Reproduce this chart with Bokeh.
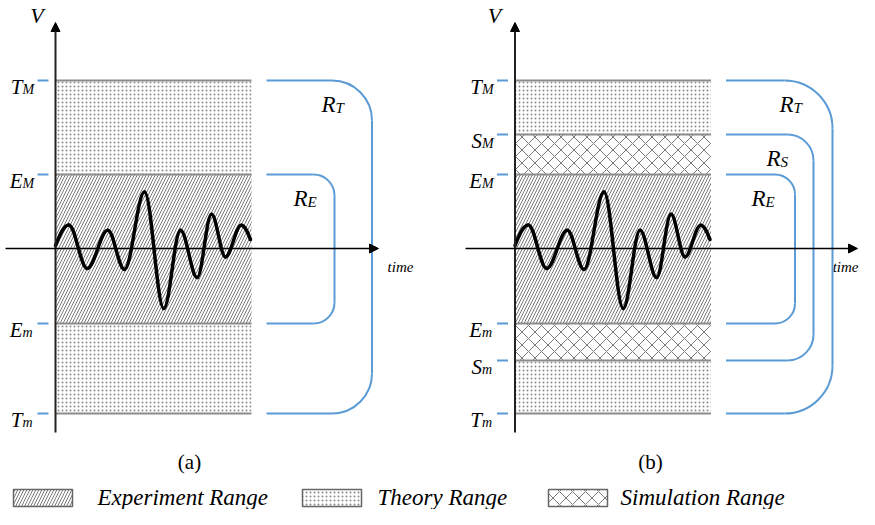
import math
from bokeh.plotting import figure
from bokeh.models import Range1d, Arrow, NormalHead
from bokeh.layouts import column, row
from bokeh.embed import file_html
from bokeh.resources import INLINE
from bokeh.core.properties import value

# ---------------- data ----------------
# signal: extrema of the measured waveform (time, voltage)
wave_time = [0, 13.3, 31.7, 52.3, 69, 89, 108.3, 125, 141.7, 156, 170, 185.7, 195]
wave_volt = [3, 23.6, -20, 18.3, -21, 56.6, -60, 18.3, -29, 34.3, -8.4, 23.3, 9]
window_time = [0, 196]

# range bounds (voltage)
theory_range = [-165, 168]
simulation_range = [-112, 114]
experiment_range = [-75, 74]

# level tick labels
levels_a_main = ["T", "E", "E", "T"]
levels_a_sub = ["M", "M", "m", "m"]
levels_a_value = [168, 74, -75, -165]

levels_b_main = ["T", "S", "E", "E", "S", "T"]
levels_b_sub = ["M", "M", "M", "m", "m", "m"]
levels_b_value = [168, 114, 74, -75, -112, -165]

# range brackets
brackets_a_sub = ["T", "E"]
brackets_b_sub = ["T", "S", "E"]

legend_labels = ["Experiment Range", "Theory Range", "Simulation Range"]
panel_captions = ["(a)", "(b)"]

# ---------------- style ----------------
BLUE = "#5b9bd5"
GRAY = "#8c8c8c"
HATCH = "#7a7a7a"
SERIF = value("'Liberation Serif', 'Times New Roman', serif")
PANEL_H = 478
RANGES = {"T": theory_range, "S": simulation_range, "E": experiment_range}

# layout of brackets per panel: vertical position, corner radius, label offset
BR_LAYOUT_A = {"T": (316.5, 40, 36.5), "E": (279, 21, 27)}
BR_LAYOUT_B = {"T": (317.5, 48, 39), "S": (298.5, 26, 33), "E": (280, 20, 29.5)}

FILLS = {
    "T": dict(hatch_pattern="dot", hatch_scale=4, hatch_weight=1.0, hatch_color="#8a8a8a"),
    "S": dict(hatch_pattern="diagonal_cross", hatch_scale=13, hatch_weight=1.0, hatch_color=HATCH),
    "E": dict(hatch_pattern="right_diagonal_line", hatch_scale=6, hatch_weight=1.0, hatch_color=HATCH),
}


def make_panel(width, origin, bands, lv_main, lv_sub, lv_val, br_subs, br_layout,
               caption, xaxis_start, xaxis_end, v_x, cap_x):
    p = figure(width=width, height=PANEL_H, output_backend="svg", toolbar_location=None,
               x_axis_type=None, y_axis_type=None, min_border=0,
               x_range=Range1d(-origin, width - origin), y_range=Range1d(-(PANEL_H - 248), 248))
    p.outline_line_color = None
    p.background_fill_color = "white"

    # bands
    for key in bands:
        lo, hi = RANGES[key]
        p.quad(left=[window_time[0]], right=[window_time[1]], bottom=[lo], top=[hi],
               fill_color="white", line_color=None, **FILLS[key])
    # boundary lines
    p.segment(x0=[window_time[0]] * len(lv_val), x1=[window_time[1]] * len(lv_val),
              y0=lv_val, y1=lv_val, line_color=GRAY, line_width=2)

    # waveform as smooth segments between extrema
    k = 0.36
    x0, y0, x1, y1, cx0, cy0, cx1, cy1 = [], [], [], [], [], [], [], []
    n = len(wave_time)
    for i in range(n - 1):
        ax, ay, bx, by = wave_time[i], wave_volt[i], wave_time[i + 1], wave_volt[i + 1]
        dx = bx - ax
        x0.append(ax); y0.append(ay); x1.append(bx); y1.append(by)
        cx0.append(ax + k * dx)
        cy0.append(ay + (0.6 * (by - ay) if i == 0 else 0))
        cx1.append(bx - k * dx)
        cy1.append(by + (0.6 * (ay - by) if i == n - 2 else 0))
    p.bezier(x0=x0, y0=y0, x1=x1, y1=y1, cx0=cx0, cy0=cy0, cx1=cx1, cy1=cy1,
             line_color="black", line_width=3.5, line_cap="round")

    # axes
    p.add_layout(Arrow(end=NormalHead(size=9, fill_color="black", line_color="black", line_width=1),
                       x_start=0, y_start=-184, x_end=0, y_end=226,
                       line_color="#222222", line_width=2))
    p.add_layout(Arrow(end=NormalHead(size=9, fill_color="black", line_color="black", line_width=1),
                       x_start=xaxis_start, y_start=0, x_end=xaxis_end, y_end=0,
                       line_color="black", line_width=1.5))
    p.text(x=[v_x], y=[233], text=["V"], text_font=SERIF,
           text_font_style="italic", text_font_size="22px", text_align="center",
           text_baseline="middle")
    p.text(x=[min(345, width - origin - 1)], y=[-18], text=["time"], text_font=SERIF,
           text_font_style="italic", text_font_size="15px",
           text_align="center" if width - origin > 360 else "right",
           text_baseline="middle")

    # level ticks + labels
    p.segment(x0=[-18] * len(lv_val), x1=[-7] * len(lv_val), y0=lv_val, y1=lv_val,
              line_color=BLUE, line_width=2)
    p.text(x=[-33] * len(lv_val), y=[v - 6 for v in lv_val], text=lv_main, text_font=SERIF,
           text_font_style="italic", text_font_size="21px", text_align="right",
           text_baseline="alphabetic")
    p.text(x=[-33] * len(lv_val), y=[v - 9 for v in lv_val], text=lv_sub, text_font=SERIF,
           text_font_style="italic", text_font_size="14px", text_align="left",
           text_baseline="alphabetic")

    # brackets
    start = 211
    for key in br_subs:
        lo, hi = RANGES[key]
        xv, r, ldx = br_layout[key]
        p.segment(x0=[start, start, xv], y0=[hi, lo, hi - r], x1=[xv - r, xv - r, xv],
                  y1=[hi, lo, lo + r], line_color=BLUE, line_width=2)
        p.arc(x=[xv - r, xv - r], y=[hi - r, lo + r], radius=r,
              start_angle=[0, -math.pi / 2], end_angle=[math.pi / 2, 0],
              line_color=BLUE, line_width=2)
        p.text(x=[xv - ldx], y=[hi - 24], text=["R"], text_font=SERIF,
               text_font_style="italic", text_font_size="23px", text_align="right",
               text_baseline="alphabetic")
        p.text(x=[xv - ldx], y=[hi - 27], text=[key], text_font=SERIF,
               text_font_style="italic", text_font_size="15px", text_align="left",
               text_baseline="alphabetic")

    # caption
    p.text(x=[cap_x], y=[-213], text=[caption], text_font=SERIF, text_font_size="21px",
           text_align="center", text_baseline="middle")
    return p


pa = make_panel(437, 55, ["T", "E"], levels_a_main, levels_a_sub, levels_a_value,
                brackets_a_sub, BR_LAYOUT_A, panel_captions[0], -50, 323, -18.5, 134)
pb = make_panel(422, 77.5, ["T", "S", "E"], levels_b_main, levels_b_sub, levels_b_value,
                brackets_b_sub, BR_LAYOUT_B, panel_captions[1], -49.5, 342.5, -20.5, 135.5)

# ---------------- legend ----------------
LEG_H = 31
pl = figure(width=859, height=LEG_H, output_backend="svg", toolbar_location=None,
            x_axis_type=None, y_axis_type=None, min_border=0,
            x_range=Range1d(0, 859), y_range=Range1d(PANEL_H + LEG_H, PANEL_H))
pl.outline_line_color = None
sw_left = [13, 302, 548]
txt_left = [97, 377, 620]
for key, l, tl, lab in zip(["E", "T", "S"], sw_left, txt_left, legend_labels):
    pl.quad(left=[l], right=[l + 59], top=[489], bottom=[506], fill_color="white",
            line_color="#666666", line_width=1.5, **FILLS[key])
    pl.text(x=[tl], y=[497], text=[lab], text_font=SERIF, text_font_style="italic",
            text_font_size="23px", text_align="left", text_baseline="middle")

layout = column(row(pa, pb), pl)
open("out.html", "w").write(file_html(layout, INLINE))
